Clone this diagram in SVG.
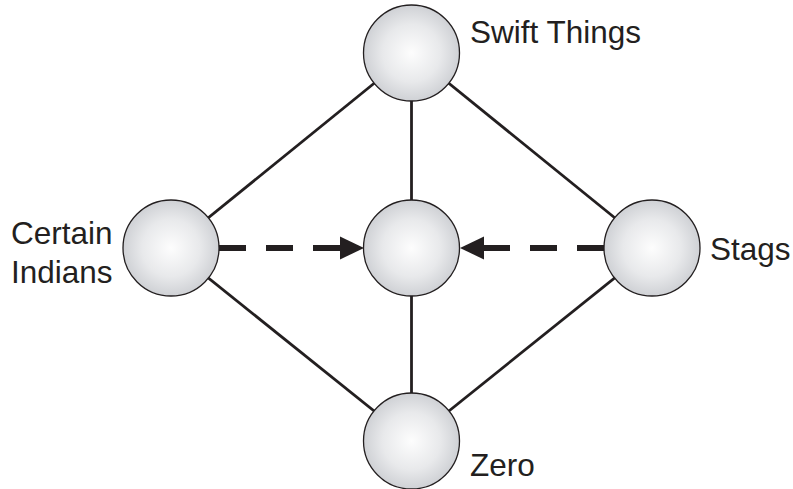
<svg xmlns="http://www.w3.org/2000/svg" width="793" height="489" viewBox="0 0 793 489">
  <defs>
    <radialGradient id="ball" cx="50%" cy="50%" r="50%">
      <stop offset="0" stop-color="#fdfdfd"/>
      <stop offset="0.6" stop-color="#e8e9eb"/>
      <stop offset="1" stop-color="#cfd1d5"/>
    </radialGradient>
    <marker id="head" markerUnits="userSpaceOnUse" markerWidth="24" markerHeight="24" refX="0" refY="11.5" orient="auto" viewBox="0 0 24 23">
      <path d="M0,0 L24,11.5 L0,23 Z" fill="#231f20"/>
    </marker>
  </defs>
  <style>
    .node { fill: url(#ball); stroke: #231f20; stroke-width: 1.3; }
    .edge { stroke: #231f20; stroke-width: 2.8; fill: none; }
    .dash { stroke: #231f20; stroke-width: 6; fill: none; stroke-dasharray: 27 20; marker-end: url(#head); }
    .label { font-family: "Liberation Sans", Arial, sans-serif; font-size: 31.5px; fill: #231f20; }
  </style>

  <g id="connectors">
    <line class="edge" x1="411.5" y1="53" x2="171" y2="248"/>
    <line class="edge" x1="411.5" y1="53" x2="411.5" y2="248"/>
    <line class="edge" x1="411.5" y1="53" x2="652" y2="248"/>
    <line class="edge" x1="171" y1="248" x2="411.5" y2="441"/>
    <line class="edge" x1="652" y1="248" x2="411.5" y2="441"/>
    <line class="edge" x1="411.5" y1="248" x2="411.5" y2="441"/>
    <path class="dash" d="M219,248 L340,248"/>
    <path class="dash" d="M604,248 L484,248"/>
  </g>

  <g id="swift-things">
    <circle class="node" cx="411.5" cy="53" r="48"/>
    <text class="label" x="470" y="43">Swift Things</text>
  </g>
  <g id="certain-indians">
    <circle class="node" cx="171" cy="248" r="48"/>
    <text class="label" x="11" y="244">Certain</text>
    <text class="label" x="11" y="283">Indians</text>
  </g>
  <g id="center">
    <circle class="node" cx="411.5" cy="248" r="48"/>
  </g>
  <g id="stags">
    <circle class="node" cx="652" cy="248" r="48"/>
    <text class="label" x="710" y="260">Stags</text>
  </g>
  <g id="zero">
    <circle class="node" cx="411.5" cy="441" r="48"/>
    <text class="label" x="470" y="476">Zero</text>
  </g>
</svg>
